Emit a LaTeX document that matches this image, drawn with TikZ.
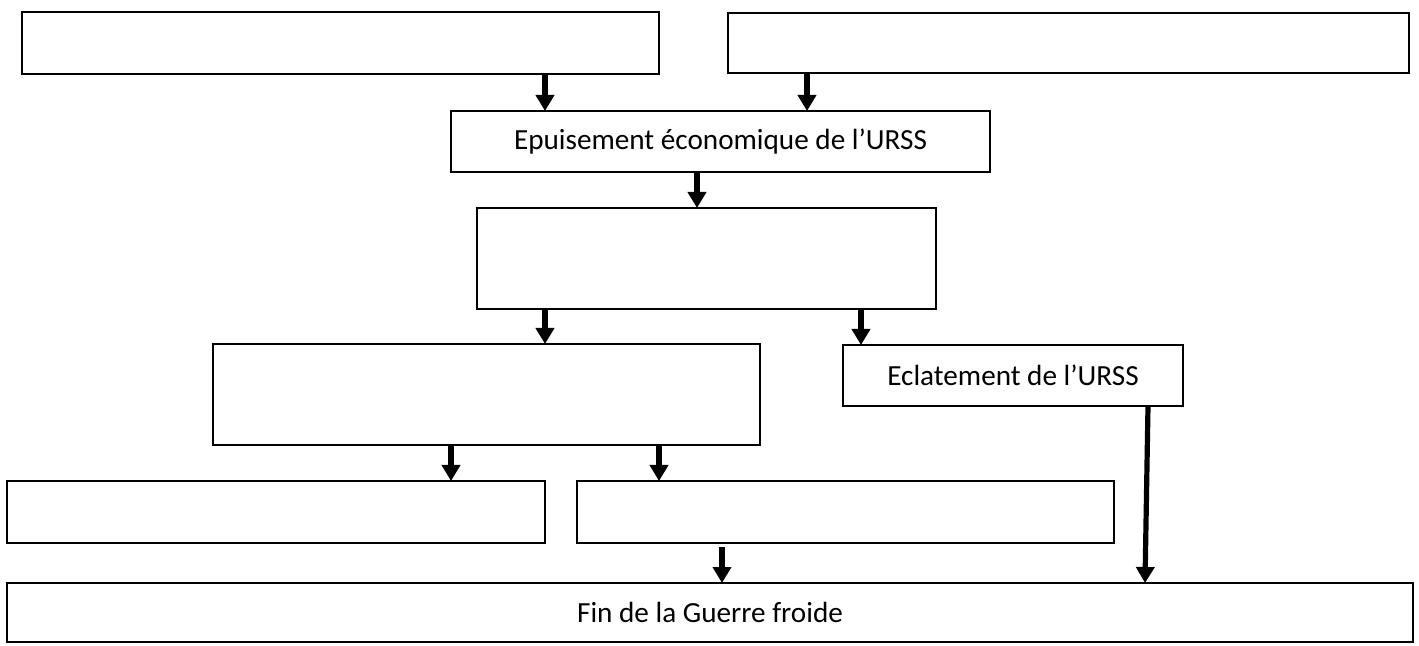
\documentclass[tikz,border=0pt]{standalone}
\usepackage{fontspec}
\setmainfont{Carlito}
\usetikzlibrary{arrows.meta}
\tikzset{
  box/.style={draw=black, line width=1.3pt, fill=white, inner sep=0pt, outer sep=0pt,
    font=\fontsize{14.6}{17}\selectfont},
  arr/.style={line width=2.6pt, -{Triangle[width=9pt,length=8pt]}},
}
\begin{document}
\begin{tikzpicture}[x=0.5pt,y=-0.5pt]
\useasboundingbox (0,0) rectangle (1419,646);
\node[box, minimum width=318.5pt, minimum height=31pt] (b1) at (340.5,43) {};
\node[box, minimum width=340.5pt, minimum height=30pt] (b2) at (1068.5,43) {};
\node[box, minimum width=269.5pt, minimum height=30.5pt] (b3) at (720.5,141.5) {Epuisement économique de l’URSS};
\node[box, minimum width=229.5pt, minimum height=50.5pt] (b4) at (706.5,258.5) {};
\node[box, minimum width=273.5pt, minimum height=50.5pt] (b5) at (486.5,394.5) {};
\node[box, minimum width=170pt, minimum height=30.5pt] (b6) at (1013,375.5) {Eclatement de l’URSS};
\node[box, minimum width=269pt, minimum height=31pt] (b7) at (276,512) {};
\node[box, minimum width=268.5pt, minimum height=31pt] (b8) at (845.5,512) {};
\node[box, minimum width=703pt, minimum height=29.5pt] (b9) at (710,612.5) {Fin de la Guerre froide};
% arrow x positions
\coordinate (xa) at (545,0);
\coordinate (xb) at (807,0);
\coordinate (xc) at (697,0);
\coordinate (xd) at (861,0);
\coordinate (xe) at (451,0);
\coordinate (xf) at (659,0);
\coordinate (xg) at (722,0);
\coordinate (xh) at (1148,0);
\coordinate (xi) at (1145,0);
\draw[arr] (b1.south -| xa) -- (b3.north -| xa);
\draw[arr] (b2.south -| xb) -- (b3.north -| xb);
\draw[arr] (b3.south -| xc) -- (b4.north -| xc);
\draw[arr] (b4.south -| xa) -- (b5.north -| xa);
\draw[arr] (b4.south -| xd) -- (b6.north -| xd);
\draw[arr] (b5.south -| xe) -- (b7.north -| xe);
\draw[arr] (b5.south -| xf) -- (b8.north -| xf);
\draw[arr] ([yshift=-2pt]b8.south -| xg) -- (b9.north -| xg);
\draw[arr] (b6.south -| xh) -- (b9.north -| xi);
\end{tikzpicture}
\end{document}
